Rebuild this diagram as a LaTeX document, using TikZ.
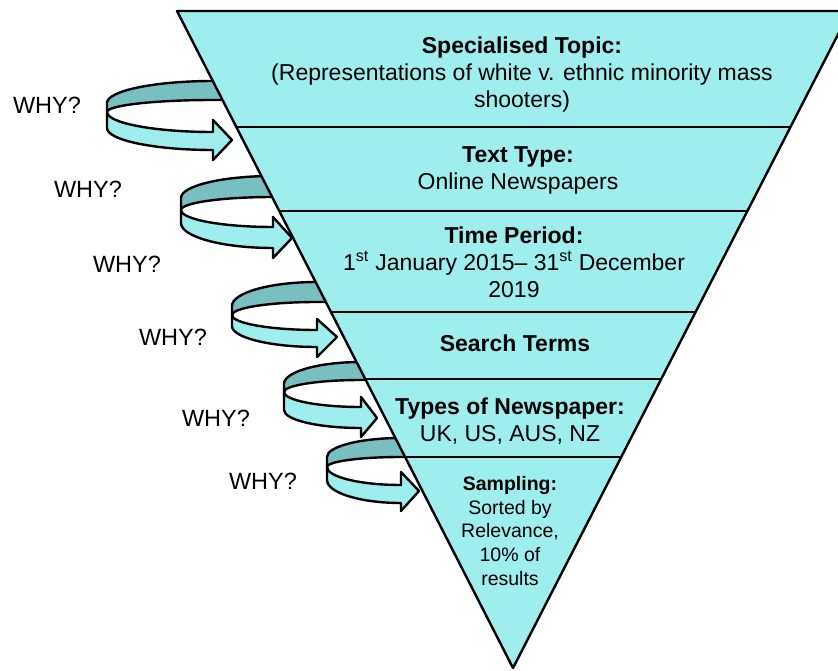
\documentclass[tikz,border=0pt]{standalone}
\usepackage{fontspec}
\setmainfont{Liberation Sans}
\usetikzlibrary{calc}
\definecolor{cyanfill}{RGB}{158,238,238}
\definecolor{cyandark}{RGB}{120,192,192}
\begin{document}
\begin{tikzpicture}[x=1pt,y=-1pt,
  outline/.style={draw=black,line width=2.4pt,line join=round},
  backband/.style={outline,fill=cyandark},
  frontband/.style={outline,fill=cyanfill},
  whytext/.style={font=\fontsize{23.5}{27}\selectfont,inner sep=0pt},
  bandtext/.style={font=\fontsize{23}{27}\selectfont,align=center,inner sep=0pt},
  smalltext/.style={font=\fontsize{19.5}{23.7}\selectfont,align=center,inner sep=0pt}]
\useasboundingbox (0,0) rectangle (838,671);
\clip (0,0) rectangle (838,671);
% ribbon arrows
\foreach \xl/\xr/\ya/\yae/\ym/\yme/\yft/\yb/\yfb/\ynt/\xt/\yt/\ynb in {
 107/213/103/81/112/100/132/128/150/120/232/140/160,
 181/273/198/176/210/197/227/223/248/217/292/238/258,
 232/317/306/282/315/302/330/326/347/319/337/337/357,
 284/361/384/362/392/380/407/410/428/397/377/418/437,
 327/401/457/438/467/457/485/480/503/472/419/491/511}{
 \draw[backband] (\xl,\ya) .. controls ($(\xl,\ya)!0.5523!(\xl,\yae)$) and ($(\xr,\yae)!0.5523!(\xl,\yae)$) .. (\xr,\yae)
   -- (\xr+40,\yae) -- (\xr+40,\yme) -- (\xr,\yme)
   .. controls ($(\xr,\yme)!0.5523!(\xl,\yme)$) and ($(\xl,\ym)!0.5523!(\xl,\yme)$) .. (\xl,\ym) -- cycle;
 \draw[frontband] (\xl,\ym) .. controls ($(\xl,\ym)!0.5523!(\xl,\yft)$) and ($(\xr,\yft)!0.5523!(\xl,\yft)$) .. (\xr,\yft)
   -- (\xr,\ynt) -- (\xt,\yt) -- (\xr,\ynb) -- (\xr,\yfb)
   .. controls ($(\xr,\yfb)!0.5523!(\xl,\yfb)$) and ($(\xl,\yb)!0.5523!(\xl,\yfb)$) .. (\xl,\yb) -- cycle;
}
% funnel
\coordinate (TL) at (177,11);
\coordinate (TR) at (850,11);
\coordinate (AP) at (513,668);
\fill[cyanfill] (TL) -- (TR) -- (AP) -- cycle;
\begin{scope}
  \clip (TL) -- (TR) -- (AP) -- cycle;
  \foreach \yy in {127,211,312,379,457}
    \draw[line width=2.4pt] (150,\yy) -- (870,\yy);
\end{scope}
\draw[outline] (TL) -- (TR) -- (AP) -- cycle;
% texts
\node[bandtext] (topic) at (522,75) {\textbf{Specialised Topic:}\\(Representations of white v. ethnic minority mass\\shooters)};
\node[bandtext] (texttype) at (518,170) {\textbf{Text Type:}\\Online Newspapers};
\node[bandtext] (period) at (514,262) {\textbf{Time Period:}\\1\textsuperscript{st} January 2015-- 31\textsuperscript{st} December\\2019};
\node[bandtext] (search) at (515,343) {\textbf{Search Terms}};
\node[bandtext] (types) at (510,421) {\textbf{Types of Newspaper:}\\UK, US, AUS, NZ};
\node[smalltext] (sampling) at (510,531) {\textbf{Sampling:}\\Sorted by\\Relevance,\\10\% of\\results};
\node[whytext] (why1) at (47,105) {WHY?};
\node[whytext] (why2) at (88,189) {WHY?};
\node[whytext] (why3) at (127,264) {WHY?};
\node[whytext] (why4) at (173,337) {WHY?};
\node[whytext] (why5) at (216,418) {WHY?};
\node[whytext] (why6) at (263,481) {WHY?};
\end{tikzpicture}
\end{document}
